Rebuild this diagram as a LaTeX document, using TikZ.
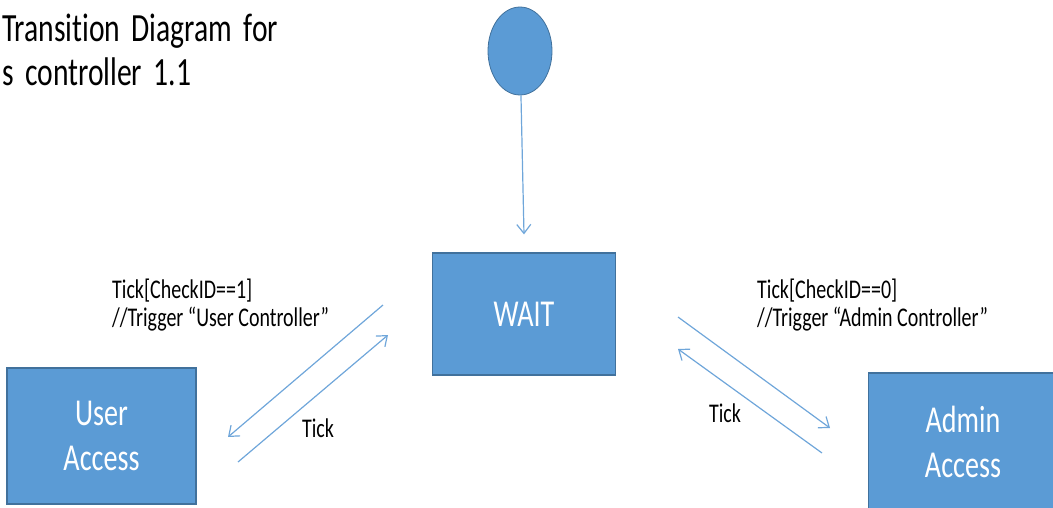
\documentclass[tikz,border=0pt]{standalone}
\usepackage{fontspec}
\setmainfont{Carlito}[FakeStretch=0.74,Ligatures=NoCommon]
\newfontfamily\titlefont{Carlito}[FakeStretch=0.74,Ligatures=NoCommon,WordSpace=1.7]
\usetikzlibrary{shapes.geometric}
\usetikzlibrary{arrows.meta}
\definecolor{boxfill}{HTML}{5B9BD5}
\definecolor{boxline}{HTML}{41719C}
\definecolor{arrowblue}{HTML}{6FA6DA}

\begin{document}
\begin{tikzpicture}[x=1pt,y=-1pt,
statebox/.style={draw=boxline,fill=boxfill,line width=1.2pt,text=white,align=center,font=\fontsize{38}{45}\selectfont},
flow/.style={draw=arrowblue,line width=1.2pt,-{Straight Barb[length=9pt,width=14pt]}},
lbl/.style={align=left,inner sep=0pt,font=\fontsize{27}{28}\selectfont}]
\useasboundingbox (0,0) rectangle (1053,507);

%title
\node[lbl,anchor=base west,font=\titlefont\fontsize{40}{44}\selectfont] (title) at (2,85) {Transition Diagram for\\s controller 1.1};

%states
\node[ellipse,fill=boxfill,draw=boxline,line width=0.8pt,minimum width=64pt,minimum height=88pt] (start) at (520,51) {};
\node[statebox,minimum width=183pt,minimum height=122pt] (wait) at (524,314) {WAIT};
\node[statebox,minimum width=189pt,minimum height=136pt] (user) at (101.5,436) {User\\Access};
\node[statebox,minimum width=189pt,minimum height=138pt] (admin) at (963,442) {Admin\\Access};

%arrow ends
\coordinate (uA) at (383,305); \coordinate (uB) at (228,437);
\coordinate (uC) at (238,462); \coordinate (uD) at (388,335);
\coordinate (aA) at (678,317); \coordinate (aB) at (830,428);
\coordinate (aC) at (822,453); \coordinate (aD) at (678,349);

%transitions
\draw[flow] (start) -- ([yshift=18pt]wait.north);
\draw[flow] (uA) -- (uB);
\draw[flow] (uC) -- (uD);
\draw[flow] (aA) -- (aB);
\draw[flow] (aC) -- (aD);

%labels
\node[lbl,anchor=base west] (userlbl) at (112,326) {Tick[CheckID==1]\\//Trigger “User Controller”};
\node[lbl,anchor=base west] (adminlbl) at (757,326) {Tick[CheckID==0]\\//Trigger “Admin Controller”};
\node[lbl] (usertick) at (318,428) {Tick};
\node[lbl] (admintick) at (725,413) {Tick};
\end{tikzpicture}
\end{document}
